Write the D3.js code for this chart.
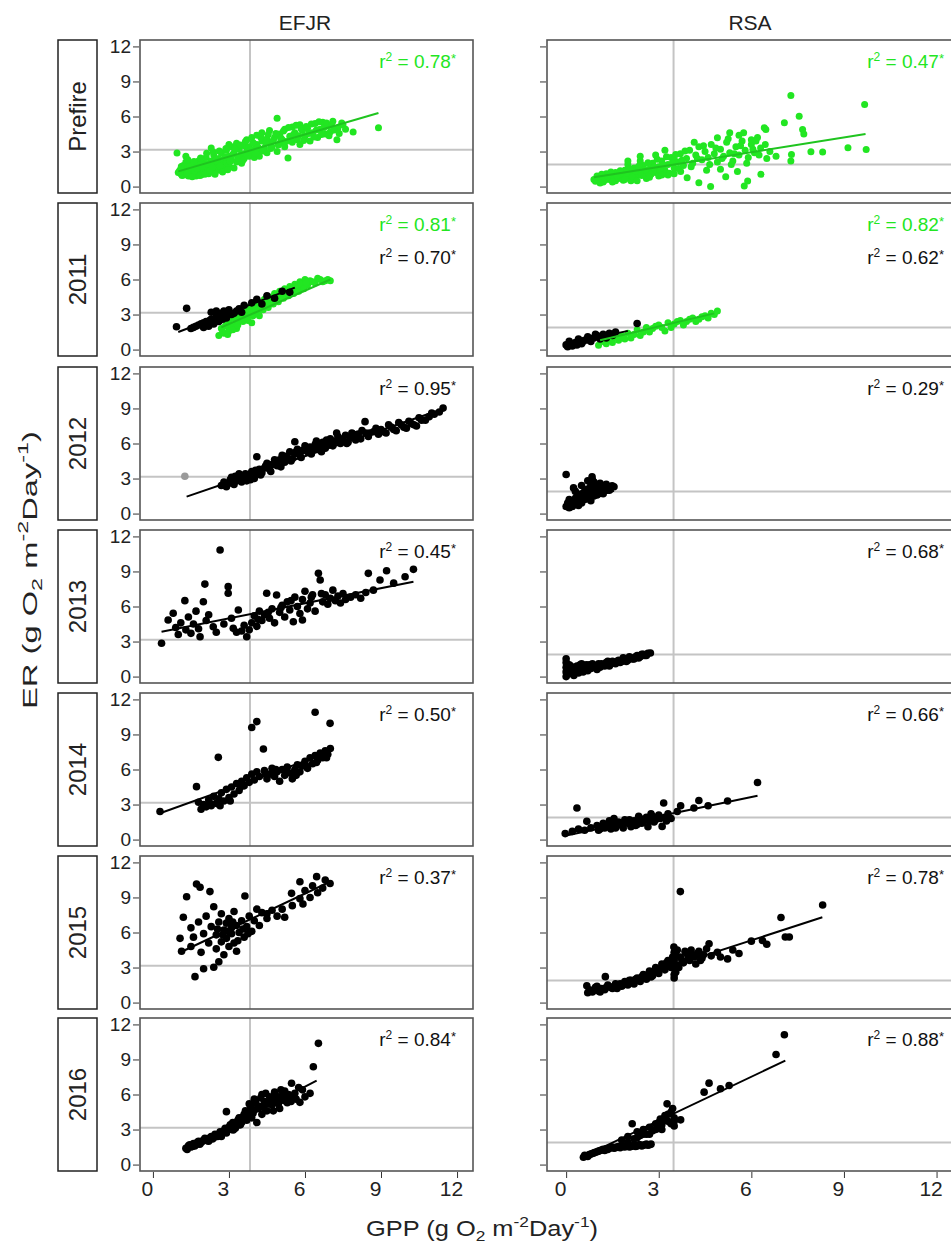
<!DOCTYPE html>
<html>
<head>
<meta charset="utf-8">
<script src="https://cdn.jsdelivr.net/npm/d3@7"></script>
<style>
  body { margin: 0; background: #fff; }
  svg { display: block; font-family: "Liberation Sans", Arial, Helvetica, sans-serif; }
</style>
</head>
<body>
<svg id="chart" width="951" height="1245"></svg>
<script>
// ---------- categories & ticks ----------
const sites = ["EFJR", "RSA"];
const periods = ["Prefire", "2011", "2012", "2013", "2014", "2015", "2016"];
const yTickValues = [0, 3, 6, 9, 12];
const xTickValues = [0, 3, 6, 9, 12];

// reference lines (GPP vertical, ER horizontal) per site
const gppRef = [3.83, 3.48];
const erRef = [3.15, 1.88];

// ---------- daily GPP,ER pairs (g O2 m-2 day-1) ----------
// EFJR
const efjrPrefire = `1.0,1.2 1.1,1.5 1.2,1.0 1.2,1.8 1.3,1.3 1.3,2.1 1.4,0.9 1.4,1.6 1.5,1.2 1.5,2.0 1.6,1.0 1.6,1.5
 1.7,1.8 1.7,0.9 1.8,1.3 1.8,2.2 1.9,1.0 1.9,1.6 2.0,1.2 2.0,2.0 2.1,1.4 2.1,2.5 2.2,1.1 2.2,1.8 2.3,1.5 2.3,2.2
 2.4,1.3 2.4,2.7 2.5,1.7 2.5,2.0 2.6,1.4 2.6,2.4 1.1,1.1 1.3,1.7 1.5,1.4 1.7,1.2 1.9,2.0 2.1,1.7 2.3,1.9 2.5,2.3
 2.7,1.9 2.7,2.9 2.8,1.6 2.8,2.3 2.9,2.1 2.9,3.1 3.0,1.8 3.0,2.6 3.1,2.3 3.1,3.4 3.2,1.6 3.2,2.9 3.3,2.1 3.3,3.7
 3.4,2.5 3.4,3.2 3.5,2.0 3.5,2.8 3.6,3.5 3.6,2.4 3.7,3.0 3.7,4.0 3.8,2.6 3.8,3.4 3.9,2.9 3.9,4.2 4.0,3.2 4.0,2.5
 4.1,3.6 4.1,4.4 4.2,3.0 4.3,3.9 4.3,4.6 4.4,3.3 4.5,4.1 4.5,2.9 4.6,3.7 4.6,4.8 4.7,3.4 4.8,4.2 4.9,5.85 4.9,3.0
 5.0,4.5 5.0,3.7 5.1,4.0 5.2,4.9 5.2,3.4 5.33,2.45 5.4,4.3 5.5,3.8 5.5,5.1 5.6,4.6 5.7,4.0 5.8,5.3 5.8,3.6 5.9,4.8
 6.0,4.3 6.1,5.0 6.2,3.9 6.3,4.6 6.4,5.4 6.5,4.2 6.6,4.9 6.7,5.5 6.8,4.5 6.9,5.2 7.0,4.7 7.1,5.6 7.26,4.0 7.3,5.0
 7.5,5.3 7.9,4.67 8.9,5.04 0.95,2.87 1.3,2.6 2.3,3.3 4.2,2.6 3.0,3.6
 1.05,1.35 1.15,0.95 1.25,1.55 1.35,1.15 1.45,1.85 1.55,0.85 1.65,1.35 1.75,1.55 1.85,0.95 1.95,1.75 2.05,1.05
 2.15,1.95 2.25,1.35 2.35,1.65 2.45,1.05 2.55,2.15 2.65,1.75 2.75,1.25 2.85,2.55 2.95,1.45 1.12,1.72 1.38,2.3
 1.62,2.15 1.88,2.45 2.12,2.85 2.38,2.95 2.62,3.05 2.88,3.25 3.05,2.15 3.15,2.75 3.25,3.25 3.35,2.45 3.45,3.55
 3.55,2.25 3.65,3.85 3.75,2.65 3.85,3.15 3.95,3.75 4.05,2.85 4.15,3.35 4.25,4.25 4.35,3.05 4.45,3.75 4.55,4.45
 4.65,3.25 4.75,3.95 4.85,4.55 4.95,3.55 5.05,4.15 5.15,4.75 5.25,3.85 5.35,5.05 5.45,4.05 5.55,4.45 5.65,5.25
 5.75,4.35 5.85,4.95 5.95,3.95 6.05,5.15 6.15,4.55 6.25,5.35 6.35,4.25 6.45,4.85 6.55,5.55 6.65,4.45 6.75,5.05
 6.85,5.45 6.95,4.35 7.05,5.25 7.15,4.85 7.35,4.55 7.45,5.45 7.6,4.9`;
const efjr2011Pre = `2.6,1.2 2.7,1.8 2.8,1.4 2.9,2.1 3.0,1.6 3.0,2.5 3.1,2.0 3.2,2.8 3.3,2.3 3.3,1.8 3.4,3.0 3.5,2.6
 3.6,3.3 3.7,2.8 3.8,3.6 3.9,3.1 4.0,3.8 4.1,3.4 4.2,4.0 4.3,3.6 4.4,4.3 4.5,3.9 4.6,4.5 4.7,4.1 4.8,4.8 4.9,4.3
 5.0,5.0 5.1,4.6 5.2,5.2 5.3,4.8 5.4,5.4 5.5,5.0 5.6,5.6 5.7,5.2 5.8,5.8 5.9,5.4 6.0,6.0 6.1,5.5 6.2,5.9 6.4,5.7
 6.5,6.1 6.7,5.8 6.9,6.0 7.0,5.9 3.9,2.3 4.2,2.9
 2.75,1.5 2.85,2.0 2.95,1.3 3.05,2.2 3.15,1.7 3.25,2.6 3.35,2.1 3.45,2.8 3.55,2.4 3.65,3.0 3.75,2.5 3.85,3.3
 3.95,2.9 4.05,3.5 4.15,3.1 4.25,3.8 4.35,3.4 4.45,4.0 4.55,3.6 4.65,4.3 4.75,3.9 4.85,4.6 4.95,4.1 5.05,4.8
 5.15,4.4 5.25,5.0 5.35,4.6 5.45,5.2 5.55,4.8 5.65,5.4 5.75,5.0 5.85,5.6 5.95,5.2 6.05,5.7 6.3,5.8 6.6,6.0 6.8,5.9`;
const efjr2011Post = `0.93,1.96 1.33,3.53 1.5,1.8 1.7,2.0 1.9,2.2 2.0,1.9 2.1,2.4 2.2,2.0 2.3,2.6 2.3,3.2 2.4,2.2
 2.5,2.8 2.5,3.3 2.6,2.4 2.7,3.1 2.8,3.3 2.9,2.7 3.0,3.4 3.1,3.0 3.3,3.3 3.5,3.2 3.6,3.8 3.9,4.0 4.1,4.3 4.3,3.9
 4.5,4.6 4.8,4.4 5.1,5.0 5.4,4.9 1.6,1.9 1.8,2.1 2.0,2.3 2.15,2.1 2.25,2.5 2.35,2.3 2.45,2.6 2.55,2.5 2.65,2.9
 2.75,2.6 2.85,3.0 2.95,3.2 3.2,3.1 3.4,3.5`;
const efjr2012 = `2.7,2.4 2.8,2.7 2.9,2.3 3.0,2.6 3.1,3.1 3.2,2.5 3.3,2.8 3.4,3.4 3.5,2.7 3.6,3.0 3.7,2.8 3.8,3.2
 3.9,3.6 4.0,3.0 4.1,4.87 4.1,3.4 4.2,3.8 4.3,3.5 4.4,3.9 4.5,4.3 4.6,3.8 4.7,4.2 4.8,4.6 4.9,4.1 5.0,4.6 5.1,5.0
 5.2,4.4 5.3,4.8 5.4,5.3 5.5,4.7 5.6,6.15 5.6,5.1 5.7,5.5 5.8,5.0 5.9,5.4 6.0,5.8 6.1,5.3 6.2,5.7 6.3,5.4 6.4,5.9
 6.5,5.5 6.6,5.8 6.7,6.1 6.8,5.6 6.9,6.0 7.0,6.4 7.1,5.8 7.2,6.2 7.3,6.6 7.4,6.0 7.5,6.4 7.6,6.7 7.7,6.1 7.8,6.5
 7.9,6.8 8.0,6.3 8.1,6.8 8.2,6.4 8.37,7.87 8.4,6.9 8.5,6.6 8.7,7.0 8.9,6.8 9.0,7.2 9.2,6.9 9.4,7.4 9.6,7.1 9.8,7.6
 10.0,7.3 10.2,7.7 10.4,7.5 10.6,8.0 10.9,8.3 11.1,8.5 11.45,9.03
 3.05,2.9 3.25,3.2 3.45,2.9 3.65,3.4 3.85,2.9 4.05,3.7 4.25,3.3 4.45,4.1 4.65,3.6 4.85,4.4 5.05,4.0 5.25,4.9
 5.45,4.5 5.65,5.3 5.85,4.8 6.05,5.6 6.25,5.1 6.45,6.2 6.65,5.3 6.85,6.3 7.05,5.9 7.25,6.9 7.45,6.3 7.65,6.0
 7.85,6.9 8.05,6.6 8.25,7.1 8.55,6.9 8.8,7.3 9.1,7.0 9.3,7.6 9.5,7.2 9.7,7.8 9.9,7.4 10.1,7.9 10.3,7.6 10.5,8.2
 10.75,8.0 11.0,8.6 11.3,8.7`;
const efjr2012Flagged = `1.26,3.2`;
const efjr2013 = `0.34,2.85 0.6,4.84 0.8,5.42 0.9,4.2 1.0,3.6 1.1,4.6 1.26,6.5 1.3,4.0 1.4,5.1 1.5,3.7 1.6,4.5
 1.7,5.6 1.8,4.1 1.86,3.41 1.99,6.41 2.05,7.92 2.1,4.8 2.2,5.3 2.38,4.27 2.5,3.8 2.65,10.84 2.8,4.5 2.97,7.7
 2.97,7.13 3.1,5.0 3.17,4.13 3.3,3.8 3.37,5.7 3.5,3.9 3.6,4.4 3.7,3.41 3.8,4.0 3.9,4.6 4.0,5.2 4.1,4.3 4.2,5.6
 4.3,4.8 4.4,5.3 4.49,7.13 4.6,5.0 4.7,5.8 4.8,4.6 4.88,6.98 5.0,5.5 5.1,6.1 5.2,5.1 5.3,6.4 5.4,5.7 5.54,4.7
 5.6,6.8 5.7,6.0 5.8,5.4 5.9,6.6 5.9,4.84 6.0,7.3 6.1,5.8 6.2,6.3 6.3,7.0 6.4,5.6 6.53,8.84 6.6,8.27 6.7,6.4
 6.8,7.0 6.9,6.2 7.0,6.7 7.1,7.4 7.2,6.5 7.3,6.9 7.4,6.3 7.5,7.1 7.6,6.6 7.8,6.8 8.0,7.0 8.2,6.7 8.5,8.84 8.4,7.2
 8.7,7.4 8.96,8.27 9.22,9.06 9.5,8.0 9.95,8.55 10.28,9.18 4.15,4.9 4.55,5.5 5.05,5.9 5.45,6.5 6.25,6.8 6.65,7.1`;
const efjr2014 = `0.28,2.4 1.72,4.53 1.8,3.2 1.9,2.6 2.0,3.0 2.1,2.8 2.2,3.4 2.3,2.9 2.4,3.7 2.5,3.1 2.58,7.04
 2.6,3.5 2.7,4.0 2.8,3.3 2.9,4.3 3.0,3.6 3.1,4.5 3.2,3.9 3.3,4.8 3.4,4.2 3.5,5.0 3.6,4.6 3.7,5.3 3.8,4.9 3.9,9.6
 3.9,5.6 4.0,5.1 4.1,10.1 4.1,5.8 4.2,5.4 4.36,7.75 4.4,5.9 4.5,5.2 4.6,5.6 4.7,6.1 4.8,5.4 4.9,5.8 5.0,5.0
 5.1,6.0 5.2,5.5 5.3,6.2 5.4,5.7 5.5,5.2 5.6,6.0 5.7,6.4 5.8,5.8 5.9,6.3 6.0,6.7 6.1,6.1 6.2,7.0 6.3,6.5 6.4,10.9
 6.4,7.2 6.5,6.8 6.6,7.4 6.7,7.0 6.8,7.6 6.9,7.3 6.99,9.95 7.0,7.8 2.25,3.1 2.65,2.9 3.05,3.3 3.45,4.5 4.45,5.6
 4.85,6.0 5.25,5.8 5.65,5.5 6.05,6.3 6.45,6.6 6.85,7.0`;
const efjr2015 = `1.07,5.5 1.13,4.4 1.2,7.3 1.33,9.06 1.5,6.4 1.5,4.8 1.6,5.6 1.66,2.22 1.72,10.15 1.8,6.9
 1.86,9.87 1.9,4.3 2.0,2.9 2.0,5.9 2.1,7.4 2.2,5.1 2.25,9.5 2.3,6.5 2.4,3.02 2.4,8.2 2.5,4.6 2.5,5.8 2.6,6.9
 2.6,3.5 2.7,5.2 2.7,7.6 2.8,4.1 2.8,6.2 2.9,5.5 2.9,6.8 3.0,4.8 3.0,7.2 3.1,5.9 3.1,6.4 3.2,5.1 3.2,7.8 3.3,6.6
 3.3,4.4 3.4,6.0 3.5,7.0 3.6,5.6 3.63,9.12 3.7,6.5 3.8,7.4 3.9,6.1 4.0,7.0 4.1,8.0 4.2,6.6 4.3,7.7 4.5,7.2 4.5,7.6
 4.7,7.9 4.9,7.4 5.1,8.0 5.2,7.3 5.47,9.35 5.5,8.3 5.8,10.35 5.8,8.9 5.92,8.44 6.0,9.6 6.2,9.0 6.3,10.0 6.46,10.78
 6.5,9.4 6.7,9.8 6.8,10.5 6.99,10.2 2.75,5.8 2.95,6.1 3.15,6.9 3.35,5.3 3.55,6.3 3.75,5.9 2.55,6.3`;
const efjr2016 = `1.3,1.4 1.4,1.6 1.5,1.5 1.6,1.8 1.7,1.7 1.8,2.0 1.9,1.9 2.0,2.1 2.1,2.2 2.2,2.0 2.3,2.4 2.4,2.3
 2.5,2.5 2.6,2.6 2.7,2.4 2.8,2.9 2.9,4.53 2.9,2.7 3.0,3.2 3.1,3.0 3.17,2.96 3.2,3.5 3.3,3.3 3.4,4.0 3.5,3.6 3.6,4.3
 3.7,3.8 3.8,5.2 3.8,4.5 3.9,4.0 4.0,5.6 4.0,4.7 4.1,3.6 4.2,5.0 4.3,4.3 4.3,6.0 4.4,5.4 4.5,4.6 4.6,5.8 4.7,5.1
 4.8,6.2 4.9,5.5 5.0,4.8 5.1,5.9 5.2,6.3 5.3,5.3 5.47,6.96 5.5,5.7 5.6,6.1 5.8,5.33 5.9,6.4 6.2,6.1 6.33,8.38
 6.53,10.38 1.35,1.3 1.45,1.7 1.55,1.55 1.65,1.6 1.75,1.9 1.85,1.75 1.95,2.0 2.05,2.25 2.15,2.05 2.25,2.3 2.35,2.2
 2.45,2.6 2.55,2.4 2.65,2.8 2.75,2.7 2.85,3.1 2.95,3.0 3.05,3.4 3.15,3.6 3.25,3.1 3.35,3.8 3.45,3.4 3.55,4.1
 3.65,4.6 3.75,4.2 3.85,5.0 3.95,4.4 4.05,5.3 4.15,4.8 4.25,5.7 4.35,4.9 4.45,6.1 4.55,5.2 4.65,5.5 4.75,4.6
 4.85,5.9 4.95,5.2 5.05,6.4 5.15,5.5 5.25,5.8 5.35,6.0 5.45,5.4 5.65,5.6 5.75,6.6 6.0,5.8`;

// RSA
const rsaPrefire = `0.9,0.6 1.0,0.9 1.1,0.5 1.2,0.8 1.3,1.1 1.4,0.6 1.5,0.9 1.6,1.2 1.7,0.7 1.8,1.0 1.9,1.4 2.0,0.8
 2.1,1.2 2.2,1.6 2.3,1.0 2.4,1.3 2.5,1.8 2.6,1.1 2.7,1.5 2.8,2.0 2.9,1.2 3.0,1.7 3.1,2.2 3.2,1.4 3.3,1.9 3.4,2.5
 3.5,1.6 3.6,2.1 3.7,2.8 3.71,1.3 3.8,1.8 3.9,2.4 3.92,0.76 4.0,3.1 4.1,2.0 4.2,2.7 4.3,0.33 4.3,3.4 4.4,2.3
 4.5,3.0 4.6,2.5 4.68,0.0 4.7,3.6 4.8,2.8 4.9,4.18 4.9,2.1 5.0,1.48 5.0,3.2 5.1,2.6 5.17,0.85 5.2,3.8 5.3,2.9
 5.4,2.2 5.5,3.4 5.55,1.3 5.6,2.7 5.7,3.9 5.77,0.05 5.8,3.1 5.88,0.48 5.9,2.5 6.0,3.6 6.1,2.9 6.2,4.2 6.31,1.05
 6.3,3.3 6.42,5.03 6.47,4.88 6.5,2.4 6.6,3.0 6.8,2.6 7.07,5.46 7.28,7.79 7.28,2.19 7.3,2.75 7.55,6.03 7.66,4.88
 7.7,4.5 7.93,2.98 8.31,2.95 9.13,3.32 9.67,7.02 9.72,3.18 1.2,0.4 1.6,0.5 2.0,1.9 2.1,0.5 2.4,2.2 2.6,0.7
 2.8,1.3 3.0,0.9 3.3,1.0 3.5,2.3 5.6,4.4 6.0,4.0 5.3,4.6
 0.95,0.45 1.05,0.75 1.15,1.05 1.25,0.55 1.35,0.85 1.45,1.25 1.55,0.65 1.65,0.95 1.75,1.35 1.85,0.55 1.95,1.15
 2.05,1.55 2.15,0.85 2.25,1.35 2.35,1.75 2.45,0.95 2.55,1.45 2.65,2.05 2.75,1.05 2.85,1.65 2.95,2.35 3.05,1.35
 3.15,1.85 3.25,2.55 3.35,1.15 3.45,2.05 3.55,2.75 3.65,1.55 3.75,2.25 3.85,3.05 1.1,0.3 1.5,0.4 1.9,0.6 2.3,0.5
 2.7,0.8 3.1,1.0 3.5,1.1 2.0,2.2 2.4,2.6 2.9,2.7 3.2,3.1 4.05,1.7 4.25,2.4 4.45,3.5 4.65,1.9 4.85,3.3 5.05,2.4
 5.25,4.1 5.45,2.8 5.65,3.5 5.85,2.0 6.05,3.2 6.25,2.7 4.15,3.8 4.55,1.4 5.35,1.9 5.75,4.6 6.15,3.9 6.45,3.6`;
const rsa2011Pre = `1.05,0.36 1.2,0.7 1.4,0.9 1.5,0.6 1.6,1.1 1.8,1.2 1.9,0.9 2.0,1.4 2.2,1.3 2.3,1.7 2.5,1.5
 2.6,1.9 2.8,1.8 3.0,2.1 3.1,1.9 3.3,2.3 3.5,2.2 3.7,2.5 3.9,2.4 4.1,2.7 4.3,2.6 4.5,2.9 4.7,3.1 4.9,3.3 3.2,1.6
 2.1,1.0 1.3,0.5 1.7,0.8 2.4,1.2 2.7,1.5 2.9,2.0 3.4,1.9 3.6,2.4 3.8,2.1 4.0,2.6 4.2,2.4 4.4,2.8 4.6,2.7 4.8,3.0`;
const rsa2011Post = `0.0,0.4 0.1,0.7 0.2,0.3 0.3,0.6 0.4,0.9 0.5,0.5 0.6,0.8 0.7,1.1 0.8,0.7 0.9,1.0 1.0,1.2
 1.1,0.9 1.2,1.3 1.3,1.0 1.4,1.4 1.5,1.2 1.6,1.5 2.3,2.23 0.05,0.25 0.15,0.5 0.35,0.4 0.55,0.7 0.75,0.8 0.95,1.3
 1.15,1.1`;
const rsa2012 = `0.0,3.35 0.0,0.6 0.05,0.9 0.1,1.2 0.15,0.7 0.2,1.0 0.24,2.2 0.3,1.3 0.35,0.9 0.4,1.5 0.45,1.1
 0.5,1.7 0.55,1.3 0.6,1.9 0.65,1.4 0.7,2.1 0.75,1.6 0.8,2.4 0.84,3.15 0.85,1.8 0.9,2.7 0.95,2.0 1.0,2.3 1.05,1.7
 1.1,2.6 1.15,2.0 1.2,2.2 1.3,2.5 1.4,2.0 1.49,2.38 1.55,2.3 0.5,2.4 0.7,2.8 0.3,1.9 0.1,0.5 0.2,0.6 0.3,0.8
 0.4,0.7 0.5,0.9 0.6,1.2 0.7,1.3 0.8,1.1 0.9,1.5 1.0,1.6 1.1,1.8 1.2,1.7 1.3,2.0 1.4,2.2 0.85,2.9 0.9,2.4`;
const rsa2013 = `0.0,0.0 0.0,0.4 0.0,0.8 0.0,1.2 0.0,1.53 0.05,0.2 0.1,0.6 0.1,1.0 0.15,0.3 0.2,0.7 0.25,0.1
 0.3,0.5 0.35,0.9 0.4,0.3 0.45,0.7 0.5,1.1 0.55,0.4 0.6,0.8 0.7,0.5 0.75,1.0 0.8,0.7 0.9,0.9 1.0,0.6 1.05,1.1
 1.1,0.8 1.2,1.0 1.3,1.2 1.4,0.9 1.5,1.3 1.6,1.1 1.7,1.4 1.8,1.3 1.9,1.5 2.0,1.4 2.1,1.6 2.2,1.5 2.3,1.8 2.4,1.7
 2.5,1.9 2.6,1.8 2.73,2.02 0.05,0.5 0.15,0.9 0.25,0.6 0.35,0.4 0.45,1.0 0.55,0.7 0.65,1.0 0.75,0.7 0.85,1.1
 0.95,0.8 1.15,1.1 1.25,0.9 1.35,1.3 1.45,1.1 1.55,1.2 1.65,1.3 1.75,1.2 1.85,1.6 1.95,1.3 2.05,1.7 2.15,1.5
 2.25,1.7 2.35,1.6 2.45,1.9 2.55,1.8 2.65,2.0`;
const rsa2014 = `-0.03,0.51 0.2,0.7 0.35,2.7 0.4,0.9 0.6,0.8 0.67,1.56 0.8,1.0 1.0,1.2 1.1,0.9 1.2,1.4 1.3,1.1
 1.4,1.6 1.5,1.3 1.6,1.0 1.7,1.5 1.8,1.2 1.9,1.7 2.0,1.4 2.1,1.1 2.2,1.6 2.3,1.3 2.4,1.8 2.5,1.5 2.6,1.9 2.7,1.6
 2.8,2.0 2.9,1.7 3.0,2.1 3.11,1.13 3.16,3.13 3.2,1.9 3.3,2.2 3.4,1.8 3.6,2.4 3.71,2.9 4.14,2.7 4.3,3.35 4.6,2.9
 5.23,3.3 6.2,4.89 1.05,0.8 1.25,1.0 1.45,0.9 1.65,1.3 1.85,1.0 2.05,1.7 2.25,1.2 2.45,1.4 2.65,1.1 2.85,1.5
 3.05,1.8 3.25,1.6 1.55,1.8 2.35,2.0 2.75,2.2`;
const rsa2015 = `0.67,1.44 0.7,0.84 0.9,1.1 1.0,1.4 1.1,0.9 1.27,2.22 1.3,1.3 1.5,1.2 1.6,1.6 1.8,1.4 1.9,1.8
 2.0,1.5 2.1,1.9 2.2,1.6 2.3,2.1 2.4,1.8 2.5,2.4 2.6,2.0 2.7,2.7 2.8,2.3 2.9,3.0 3.0,2.5 3.1,3.3 3.2,2.8 3.3,3.6
 3.4,3.0 3.49,4.75 3.5,2.1 3.5,3.6 3.55,2.6 3.6,3.2 3.7,9.5 3.7,3.9 3.8,3.4 3.9,4.2 4.0,3.6 4.1,4.0 4.2,3.3 4.3,4.4
 4.4,3.8 4.63,5.04 4.7,4.0 4.9,4.3 5.0,3.9 5.23,3.74 5.4,4.5 5.6,4.2 6.0,5.26 6.36,5.32 6.5,5.0 6.96,7.28 7.1,5.61
 7.23,5.61 8.31,8.35 0.75,1.1 0.85,0.9 0.95,1.3 1.05,1.0 1.15,1.2 1.25,1.1 1.35,1.5 1.45,1.3 1.55,1.4 1.65,1.2
 1.75,1.6 1.85,1.5 1.95,1.7 2.05,1.9 2.15,1.7 2.25,2.0 2.35,1.9 2.45,2.2 2.55,2.1 2.65,2.4 2.75,2.2 2.85,2.6
 2.95,2.8 3.05,2.9 3.15,3.1 3.25,3.4 3.35,3.2 3.45,3.9 3.55,4.2 3.6,4.5 3.65,3.0 3.75,3.6 3.85,4.4 3.95,3.8
 4.05,4.5 4.15,3.9 4.25,4.2 4.35,3.6 4.45,4.1 4.55,4.6 3.5,2.4 3.5,2.9 3.5,3.3 3.5,3.8 3.5,4.3`;
const rsa2016 = `0.56,0.63 0.6,0.8 0.7,0.7 0.8,0.9 0.9,1.0 1.0,1.1 1.1,1.2 1.2,1.3 1.3,1.35 1.4,1.4 1.5,1.5
 1.6,1.45 1.7,1.55 1.8,1.6 1.9,1.5 2.0,1.6 2.1,1.55 2.2,1.65 2.3,1.6 2.4,1.7 2.5,1.65 2.6,1.75 2.7,1.7 1.8,2.1
 2.0,2.4 2.14,3.49 2.2,2.2 2.3,2.8 2.4,2.5 2.5,3.0 2.6,2.6 2.7,3.2 2.8,2.9 2.9,3.5 3.0,3.1 3.05,3.9 3.1,3.4 3.2,4.2
 3.27,5.2 3.3,3.7 3.4,4.5 3.5,3.3 3.5,4.0 3.71,3.83 4.47,6.2 4.63,6.97 5.0,6.49 5.28,6.77 6.8,9.43 7.07,11.11
 0.65,0.75 0.75,0.85 0.85,0.95 0.95,1.05 1.05,1.15 1.15,1.25 1.25,1.2 1.35,1.3 1.45,1.45 1.55,1.4 1.65,1.5
 1.75,1.45 1.85,1.55 1.95,1.6 2.05,1.5 2.15,1.6 2.25,1.55 2.35,1.7 2.45,1.6 2.55,1.7 2.65,1.65 2.75,1.75 2.0,1.9
 2.3,2.3 2.5,2.6 2.7,2.6 2.9,3.0 3.0,3.6 3.1,3.0 3.2,3.8 3.3,4.3 3.4,3.5 3.45,4.8 3.5,3.7`;

// ---------- fitted regression segments [gpp0, er0, gpp1, er1] ----------
const efjrPrefireFit = [1.0, 1.3, 8.9, 6.3];
const efjr2011PreFit = [2.7, 1.9, 7.0, 6.0];
const efjr2011PostFit = [1.0, 1.5, 5.6, 5.3];
const efjr2012Fit = [1.33, 1.45, 11.5, 9.0];
const efjr2013Fit = [0.34, 3.84, 10.28, 8.12];
const efjr2014Fit = [0.28, 2.25, 7.0, 7.5];
const efjr2015Fit = [1.13, 4.35, 6.95, 10.3];
const efjr2016Fit = [1.3, 1.4, 6.46, 7.18];
const rsaPrefireFit = [0.9, 0.8, 9.7, 4.5];
const rsa2011PreFit = [1.1, 0.8, 4.8, 3.1];
const rsa2011PostFit = [0.0, 0.45, 2.0, 1.6];
const rsa2012Fit = [0.0, 0.75, 1.55, 1.95];
const rsa2013Fit = [0.0, 0.3, 2.7, 1.9];
const rsa2014Fit = [0.0, 0.35, 6.2, 3.75];
const rsa2015Fit = [0.67, 0.75, 8.3, 7.3];
const rsa2016Fit = [0.6, 0.75, 7.1, 8.9];

// ---------- r² of each fit ----------
const efjrR2Pre = ["0.78", "0.81"];            // Prefire, 2011 (prefire-style series)
const efjrR2Post = [null, "0.70", "0.95", "0.45", "0.50", "0.37", "0.84"];
const rsaR2Pre = ["0.47", "0.82"];
const rsaR2Post = [null, "0.62", "0.29", "0.68", "0.66", "0.78", "0.88"];

// ---------- styling ----------
const GREEN = "#22e622";
const GREEN_LINE = "#1fc41f";
const BLACK = "#000";
const FLAG = "#9a9a9a";

const parse = s => s.trim().split(/\s+/).map(p => p.split(",").map(Number));

const pointSets = [
  [efjrPrefire, efjr2011Pre, efjr2011Post, efjr2012, efjr2013, efjr2014, efjr2015, efjr2016],
  [rsaPrefire, rsa2011Pre, rsa2011Post, rsa2012, rsa2013, rsa2014, rsa2015, rsa2016]
];
const fitSets = [
  [efjrPrefireFit, efjr2011PreFit, efjr2011PostFit, efjr2012Fit, efjr2013Fit, efjr2014Fit, efjr2015Fit, efjr2016Fit],
  [rsaPrefireFit, rsa2011PreFit, rsa2011PostFit, rsa2012Fit, rsa2013Fit, rsa2014Fit, rsa2015Fit, rsa2016Fit]
];
const r2Pre = [efjrR2Pre, rsaR2Pre];
const r2Post = [efjrR2Post, rsaR2Post];

// series list for one panel: [{pts, fit, color, lineColor}]
function panelSeries(site, row) {
  const P = pointSets[site], F = fitSets[site];
  if (row === 0) return [{pts: P[0], fit: F[0], color: GREEN, lineColor: GREEN_LINE}];
  if (row === 1) return [
    {pts: P[1], fit: null, color: GREEN},
    {pts: P[2], fit: null, color: BLACK},
    {pts: null, fit: F[2], lineColor: BLACK},
    {pts: null, fit: F[1], lineColor: GREEN_LINE}
  ];
  const s = [{pts: P[row + 1], fit: F[row + 1], color: BLACK, lineColor: BLACK}];
  if (site === 0 && row === 2) s.unshift({pts: efjr2012Flagged, fit: null, color: FLAG});
  return s;
}
function panelLabels(site, row) {
  const out = [];
  if (row <= 1) out.push({v: r2Pre[site][row], color: GREEN});
  if (row >= 1) out.push({v: r2Post[site][row], color: "#111"});
  return out;
}

// ---------- layout ----------
const svg = d3.select("#chart");
const rowTop = [40, 203, 367, 530, 693, 856, 1018];
const panelH = 153;
const colX = [[140, 473], [547, 956]];
const xDomains = [[-0.51, 12.63], [-0.62, 12.63]];
const yDomain = [-0.55, 12.55];
const FONT = '"Liberation Sans", Arial, Helvetica, sans-serif';

// column headers
sites.forEach((s, c) => {
  const xCenter = c === 0 ? 305 : 750;
  svg.append("text").attr("x", xCenter).attr("y", 30)
    .attr("text-anchor", "middle").attr("font-size", 21).attr("fill", "#222").text(s);
});

const defs = svg.append("defs");

periods.forEach((period, row) => {
  const top = rowTop[row];
  const y = d3.scaleLinear().domain(yDomain).range([top + panelH, top]);

  // strip with period name
  svg.append("rect").attr("x", 58).attr("y", top).attr("width", 39).attr("height", panelH)
    .attr("fill", "#fff").attr("stroke", "#222").attr("stroke-width", 1.5);
  svg.append("text")
    .attr("transform", `translate(${86},${top + panelH / 2}) rotate(-90)`)
    .attr("text-anchor", "middle").attr("font-size", 24).attr("fill", "#222").text(period);

  sites.forEach((site, c) => {
    const [x0, x1] = colX[c];
    const x = d3.scaleLinear().domain(xDomains[c]).range([x0, x1]);
    const g = svg.append("g");
    const clipId = `clip-${c}-${row}`;
    defs.append("clipPath").attr("id", clipId)
      .append("rect").attr("x", x0).attr("y", top).attr("width", x1 - x0).attr("height", panelH);

    const inner = g.append("g").attr("clip-path", `url(#${clipId})`);

    // reference lines
    inner.append("line").attr("x1", x(gppRef[c])).attr("x2", x(gppRef[c]))
      .attr("y1", top).attr("y2", top + panelH)
      .attr("stroke", "#c4c4c4").attr("stroke-width", 2);
    inner.append("line").attr("x1", x0).attr("x2", x1)
      .attr("y1", y(erRef[c])).attr("y2", y(erRef[c]))
      .attr("stroke", "#c4c4c4").attr("stroke-width", 2);

    const series = panelSeries(c, row);
    // points
    series.filter(s => s.pts).forEach(s => {
      inner.append("g").selectAll("circle").data(parse(s.pts)).join("circle")
        .attr("cx", d => x(d[0])).attr("cy", d => y(d[1]))
        .attr("r", s.color === GREEN ? 3.5 : 3.8)
        .attr("fill", s.color);
    });
    // fitted lines
    series.filter(s => s.fit).forEach(s => {
      const f = s.fit;
      inner.append("line")
        .attr("x1", x(f[0])).attr("y1", y(f[1])).attr("x2", x(f[2])).attr("y2", y(f[3]))
        .attr("stroke", s.lineColor).attr("stroke-width", 2);
    });

    // r² labels
    const labX = c === 0 ? 456 : 944;
    panelLabels(c, row).forEach((lab, i) => {
      const t = g.append("text").attr("x", labX).attr("y", top + 28 + i * 33)
        .attr("text-anchor", "end").attr("font-size", 19).attr("fill", lab.color);
      t.append("tspan").text("r");
      t.append("tspan").attr("font-size", 12).attr("dy", -7).text("2");
      t.append("tspan").attr("dy", 7).text(" = " + lab.v);
      t.append("tspan").attr("font-size", 13).attr("dy", -5).text("*");
    });

    // panel frame
    g.append("rect").attr("x", x0).attr("y", top).attr("width", x1 - x0).attr("height", panelH)
      .attr("fill", "none").attr("stroke", "#555").attr("stroke-width", 1.6);

    // y axis
    const yAxis = d3.axisLeft(y).tickValues(yTickValues).tickSize(6).tickPadding(2);
    if (c === 1) yAxis.tickFormat("");
    const ya = g.append("g").attr("transform", `translate(${x0 - 1},0)`).call(yAxis);
    ya.select(".domain").remove();
    ya.selectAll("line").attr("stroke", "#333");
    ya.selectAll("text").attr("font-size", 19).attr("font-family", FONT).attr("fill", "#222");

    // x axis on the last row
    if (row === periods.length - 1) {
      const xAxis = d3.axisBottom(x).tickValues(xTickValues).tickSize(6).tickPadding(3);
      const xa = g.append("g").attr("transform", `translate(0,${top + panelH + 1})`).call(xAxis);
      xa.select(".domain").remove();
      xa.selectAll("line").attr("stroke", "#333");
      xa.selectAll("text").attr("font-size", 21).attr("font-family", FONT).attr("fill", "#222")
        .attr("dx", -6);
    }
  });
});

// axis titles
function unitTitle(sel, lead) {
  sel.append("tspan").text(lead + " (g O");
  sel.append("tspan").attr("font-size", 15).attr("dy", 5).text("2");
  sel.append("tspan").attr("dy", -5).text(" m");
  sel.append("tspan").attr("font-size", 15).attr("dy", -9).text("-2");
  sel.append("tspan").attr("dy", 9).text("Day");
  sel.append("tspan").attr("font-size", 15).attr("dy", -9).text("-1");
  sel.append("tspan").attr("dy", 9).text(")");
}
const xt = svg.append("text").attr("x", 482).attr("y", 1236).attr("text-anchor", "middle")
  .attr("font-size", 22).attr("fill", "#222")
  .attr("textLength", 232).attr("lengthAdjust", "spacingAndGlyphs");
unitTitle(xt, "GPP");

const yt = svg.append("text").attr("transform", "translate(37,570) rotate(-90)")
  .attr("text-anchor", "middle").attr("font-size", 21).attr("fill", "#222")
  .attr("textLength", 278).attr("lengthAdjust", "spacingAndGlyphs");
unitTitle(yt, "ER");
</script>
</body>
</html>
